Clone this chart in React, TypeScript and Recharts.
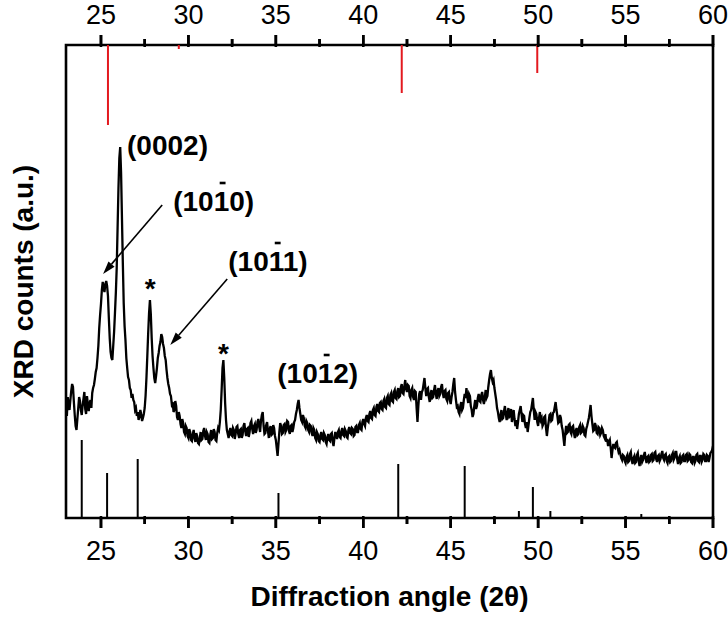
import React from 'react';
import {
  ComposedChart,
  Line,
  XAxis,
  YAxis,
  ReferenceLine,
  ReferenceArea,
  ReferenceDot,
} from 'recharts';

// ---------- data ----------
const angleStart = 23;
const angleStep = 0.05;
// XRD counts (a.u.), one value every 0.05 degree from 23.00 to 60.00 (20 values per degree row)
const intensity = [
  112, 102, 121, 113, 108, 118, 127, 134, 131, 116, 103, 92, 88, 99, 110, 121, 117, 108, 103, 112,
  119, 126, 109, 104, 122, 114, 107, 115, 118, 110, 125, 130, 133, 139, 146, 150, 160, 172, 190, 203,
  214, 228, 236, 230, 226, 234, 237, 232, 222, 200, 180, 166, 160, 158, 172, 186, 205, 225, 250, 290,
  330, 360, 371, 345, 300, 255, 215, 192, 178, 160, 150, 141, 138, 130, 128, 120, 124, 118, 116, 108,
  110, 102, 106, 98, 101, 108, 104, 97, 100, 104, 110, 122, 140, 162, 185, 205, 218, 204, 180, 162,
  150, 140, 135, 142, 150, 160, 165, 172, 176, 184, 181, 174, 170, 162, 158, 148, 140, 134, 130, 124,
  122, 114, 116, 106, 108, 117, 112, 101, 98, 106, 102, 94, 90, 99, 95, 86, 84, 92, 90, 82,
  80, 89, 86, 78, 77, 84, 88, 80, 76, 85, 82, 75, 74, 80, 86, 78, 79, 87, 90, 82,
  78, 86, 84, 76, 75, 83, 88, 79, 80, 89, 86, 78, 77, 85, 90, 88, 96, 108, 128, 150,
  158, 140, 115, 98, 88, 84, 80, 87, 90, 83, 82, 90, 88, 79, 84, 91, 92, 84, 80, 88,
  89, 80, 83, 92, 95, 87, 82, 89, 90, 81, 86, 95, 97, 89, 84, 92, 94, 85, 88, 96,
  99, 91, 86, 97, 103, 106, 92, 84, 85, 93, 96, 87, 80, 89, 92, 83, 84, 93, 90, 82,
  78, 70, 62, 74, 86, 95, 92, 84, 85, 93, 94, 86, 88, 97, 96, 87, 84, 92, 93, 86,
  90, 96, 98, 104, 108, 114, 118, 110, 104, 98, 96, 103, 100, 92, 90, 97, 95, 88, 86, 93,
  92, 85, 82, 90, 88, 80, 78, 86, 84, 77, 76, 83, 86, 79, 78, 85, 83, 76, 74, 81,
  84, 78, 77, 84, 85, 76, 72, 80, 86, 82, 79, 86, 88, 81, 80, 87, 90, 83, 82, 89,
  87, 81, 80, 88, 91, 85, 84, 90, 89, 82, 83, 91, 92, 86, 86, 93, 95, 89, 88, 96,
  99, 94, 92, 100, 103, 97, 96, 104, 107, 100, 99, 108, 110, 103, 102, 111, 114, 107, 106, 115,
  116, 109, 108, 117, 119, 111, 110, 120, 122, 114, 113, 123, 125, 117, 116, 126, 128, 120, 119, 127,
  130, 121, 122, 131, 134, 125, 124, 132, 138, 129, 126, 133, 132, 122, 120, 128, 130, 121, 118, 127,
  126, 110, 96, 112, 124, 127, 118, 126, 128, 134, 140, 130, 122, 129, 130, 121, 116, 124, 128, 120,
  121, 128, 133, 124, 119, 127, 130, 122, 124, 131, 134, 125, 120, 127, 128, 119, 117, 125, 126, 118,
  114, 121, 126, 134, 140, 126, 118, 111, 112, 106, 104, 112, 116, 108, 110, 118, 124, 120, 130, 121,
  115, 124, 122, 112, 108, 101, 104, 112, 118, 109, 112, 120, 124, 117, 116, 123, 126, 118, 114, 121,
  128, 120, 122, 131, 138, 144, 148, 140, 136, 138, 130, 124, 118, 110, 106, 100, 96, 103, 108, 99,
  100, 107, 112, 104, 98, 105, 110, 101, 102, 109, 96, 102, 108, 99, 92, 98, 89, 96, 104, 108,
  112, 104, 96, 103, 102, 94, 90, 96, 86, 93, 100, 106, 108, 114, 120, 108, 98, 106, 104, 96,
  92, 100, 106, 98, 100, 92, 94, 101, 102, 90, 82, 90, 96, 103, 104, 97, 98, 105, 106, 111,
  116, 108, 102, 95, 96, 103, 100, 92, 88, 80, 72, 84, 92, 85, 86, 93, 94, 86, 84, 91,
  92, 85, 80, 87, 90, 83, 84, 91, 93, 85, 86, 92, 90, 83, 82, 89, 92, 96, 100, 106,
  113, 102, 94, 87, 88, 95, 92, 85, 84, 91, 90, 83, 85, 90, 88, 82, 80, 84, 76, 79,
  72, 76, 78, 70, 60, 68, 74, 71, 70, 75, 76, 70, 66, 68, 64, 60, 58, 63, 62, 57,
  55, 61, 63, 56, 57, 64, 66, 58, 54, 60, 62, 55, 56, 63, 65, 57, 52, 59, 63, 56,
  58, 63, 66, 59, 55, 61, 62, 56, 57, 63, 64, 57, 58, 65, 66, 59, 56, 62, 63, 57,
  59, 64, 67, 60, 58, 63, 64, 57, 55, 61, 62, 56, 57, 63, 65, 58, 60, 66, 66, 59,
  54, 60, 62, 55, 56, 62, 63, 57, 57, 63, 64, 57, 58, 64, 63, 56, 55, 61, 61, 55,
  57, 63, 64, 57, 56, 62, 62, 56, 58, 64, 63, 57, 57, 63, 62, 56, 60, 65, 66, 68,
  72,
];

const xMin = 23;
const xMax = 60;
const yMax = 473;

const axisTicks = [25, 27.5, 30, 32.5, 35, 37.5, 40, 42.5, 45, 47.5, 50, 52.5, 55, 57.5, 60];
const majorTickLen = 10;
const minorTickLen = 6;

// reference pattern (black sticks, from the bottom)
const blackAngles = [23.9, 25.35, 27.1, 35.15, 42.0, 45.8, 48.9, 49.7, 50.7, 55.9];
const blackHeights = [78, 45, 59, 25, 54, 52, 7, 31, 7, 4];

// reference pattern (red sticks, hanging from the top)
const redAngles = [25.4, 29.45, 42.2, 49.95];
const redEnds = [393, 469, 425, 445];

// peak labels
const labelTexts = ['(0002)', '(1010)', '(1011)', '(1012)'];
const labelAngles = [26.49, 29.13, 32.28, 35.08];
const labelCounts = [363, 307, 247, 135];
const labelBarred = [false, true, true, true];

const starAngles = [27.81, 32.0];
const starCounts = [220, 155];

// arrows
const arrowFromAngles = [28.5, 32.22];
const arrowFromCounts = [313, 239];
const arrowToAngles = [25.12, 28.96];
const arrowToCounts = [244, 173];

const rows = intensity.map((v, i) => ({
  angle: Number((angleStart + i * angleStep).toFixed(2)),
  counts: v,
}));

const FONT = 'Liberation Sans, Arial, Helvetica, sans-serif';
const TICK_FS = 27;
const ANN_FS = 28;

const isMajor = (v: number) => v % 5 === 0;

const AxisTick = (props: any) => {
  const { x, y, payload, top } = props;
  const major = isMajor(payload.value);
  const len = major ? majorTickLen : minorTickLen;
  const dir = top ? -1 : 1;
  const d = `M${x},${y - dir * 2} L${x},${y + dir * len}`;
  return (
    <g>
      <path d={d} stroke="#000" strokeWidth={2.6} fill="none" />
      {major && (
        <text
          x={x}
          y={top ? y - 21 : y + 42}
          textAnchor="middle"
          fontSize={TICK_FS}
          fontFamily={FONT}
          fill="#000"
          stroke="none"
        >
          {payload.value}
        </text>
      )}
    </g>
  );
};

const makeLabelShape = (text: string, barred: boolean) => (p: any) => {
  const { cx, cy } = p;
  return (
    <g>
      <text x={cx} y={cy} fontSize={ANN_FS} fontWeight="bold" fontFamily={FONT} fill="#000">
        {text}
      </text>
      {barred && (
        <line
          x1={cx + 1.66 * ANN_FS}
          x2={cx + 1.87 * ANN_FS}
          y1={cy - 28}
          y2={cy - 28}
          stroke="#000"
          strokeWidth={2.6}
        />
      )}
    </g>
  );
};

const starShape = (p: any) => (
  <text x={p.cx} y={p.cy} textAnchor="middle" fontSize={ANN_FS} fontWeight="bold" fontFamily={FONT} fill="#000">
    *
  </text>
);

const arrowShape = (p: any) => {
  const { x1, y1, x2, y2 } = p;
  const dx = x2 - x1;
  const dy = y2 - y1;
  const len = Math.sqrt(dx * dx + dy * dy) || 1;
  const ux = dx / len;
  const uy = dy / len;
  const hl = 13;
  const hw = 4;
  const bx = x2 - ux * hl;
  const by = y2 - uy * hl;
  return (
    <g>
      <line x1={x1} y1={y1} x2={bx} y2={by} stroke="#000" strokeWidth={1.6} />
      <polygon
        points={`${x2},${y2} ${bx - uy * hw},${by + ux * hw} ${bx + uy * hw},${by - ux * hw}`}
        fill="#000"
      />
    </g>
  );
};

export default function App() {
  return (
    <div style={{ position: 'absolute', left: 0, top: 0, width: 728, height: 617, background: '#fff' }}>
      <ComposedChart
        width={728}
        height={617}
        data={rows}
        margin={{ top: 44, right: 15, bottom: 98, left: 65 }}
      >
        <XAxis
          dataKey="angle"
          type="number"
          domain={[xMin, xMax]}
          ticks={axisTicks}
          interval={0}
          allowDataOverflow
          height={1}
          axisLine={false}
          tickLine={false}
          tickSize={0}
          tickMargin={0}
          tick={(p: any) => <AxisTick {...p} top={false} />}
          label={{
            content: (lp: any) => {
              const vb = lp.viewBox;
              return (
                <text
                  x={vb.x + vb.width / 2}
                  y={606}
                  textAnchor="middle"
                  fontSize={28}
                  fontWeight="bold"
                  fontFamily={FONT}
                  fill="#000"
                >
                  Diffraction angle (2θ)
                </text>
              );
            },
          }}
        />
        <XAxis
          xAxisId="top"
          orientation="top"
          dataKey="angle"
          type="number"
          domain={[xMin, xMax]}
          ticks={axisTicks}
          interval={0}
          allowDataOverflow
          height={1}
          axisLine={false}
          tickLine={false}
          tickSize={0}
          tickMargin={0}
          tick={(p: any) => <AxisTick {...p} top />}
        />
        <YAxis
          type="number"
          domain={[0, yMax]}
          allowDataOverflow
          width={1}
          tick={false}
          tickLine={false}
          axisLine={false}
          label={{
            content: (lp: any) => {
              const vb = lp.viewBox;
              const cx = 33;
              const cy = vb.y + vb.height / 2;
              return (
                <text
                  x={cx}
                  y={cy}
                  transform={`rotate(-90 ${cx} ${cy})`}
                  textAnchor="middle"
                  fontSize={28}
                  fontWeight="bold"
                  fontFamily={FONT}
                  fill="#000"
                >
                  XRD counts (a.u.)
                </text>
              );
            },
          }}
        />

        {axisTicks.map((t, i) => (
          <ReferenceLine
            key={`tb${i}`}
            segment={[
              { x: t, y: 0 },
              { x: t, y: -(isMajor(t) ? majorTickLen : minorTickLen) },
            ]}
            stroke="#000"
            strokeWidth={2.6}
            ifOverflow="visible"
          />
        ))}
        {axisTicks.map((t, i) => (
          <ReferenceLine
            key={`tt${i}`}
            segment={[
              { x: t, y: yMax },
              { x: t, y: yMax + (isMajor(t) ? majorTickLen : minorTickLen) },
            ]}
            stroke="#000"
            strokeWidth={2.6}
            ifOverflow="visible"
          />
        ))}

        {blackAngles.map((a, i) => (
          <ReferenceLine
            key={`b${i}`}
            segment={[
              { x: a, y: 0 },
              { x: a, y: blackHeights[i] },
            ]}
            stroke="#000"
            strokeWidth={2}
          />
        ))}
        {redAngles.map((a, i) => (
          <ReferenceLine
            key={`r${i}`}
            segment={[
              { x: a, y: yMax },
              { x: a, y: redEnds[i] },
            ]}
            stroke="#e3191f"
            strokeWidth={2}
          />
        ))}

        <Line
          dataKey="counts"
          type="linear"
          stroke="#000"
          strokeWidth={2.3}
          dot={false}
          activeDot={false}
          isAnimationActive={false}
        />

        {labelTexts.map((t, i) => (
          <ReferenceDot
            key={`l${i}`}
            x={labelAngles[i]}
            y={labelCounts[i]}
            r={0}
            shape={makeLabelShape(t, labelBarred[i])}
          />
        ))}
        {starAngles.map((a, i) => (
          <ReferenceDot key={`s${i}`} x={a} y={starCounts[i]} r={0} shape={starShape} />
        ))}
        {arrowFromAngles.map((a, i) => (
          <ReferenceLine
            key={`a${i}`}
            segment={[
              { x: a, y: arrowFromCounts[i] },
              { x: arrowToAngles[i], y: arrowToCounts[i] },
            ]}
            shape={arrowShape}
          />
        ))}

        <ReferenceArea
          x1={xMin}
          x2={xMax}
          y1={0}
          y2={yMax}
          fill="none"
          fillOpacity={0}
          stroke="#000"
          strokeWidth={2.6}
          ifOverflow="visible"
        />
      </ComposedChart>
    </div>
  );
}
